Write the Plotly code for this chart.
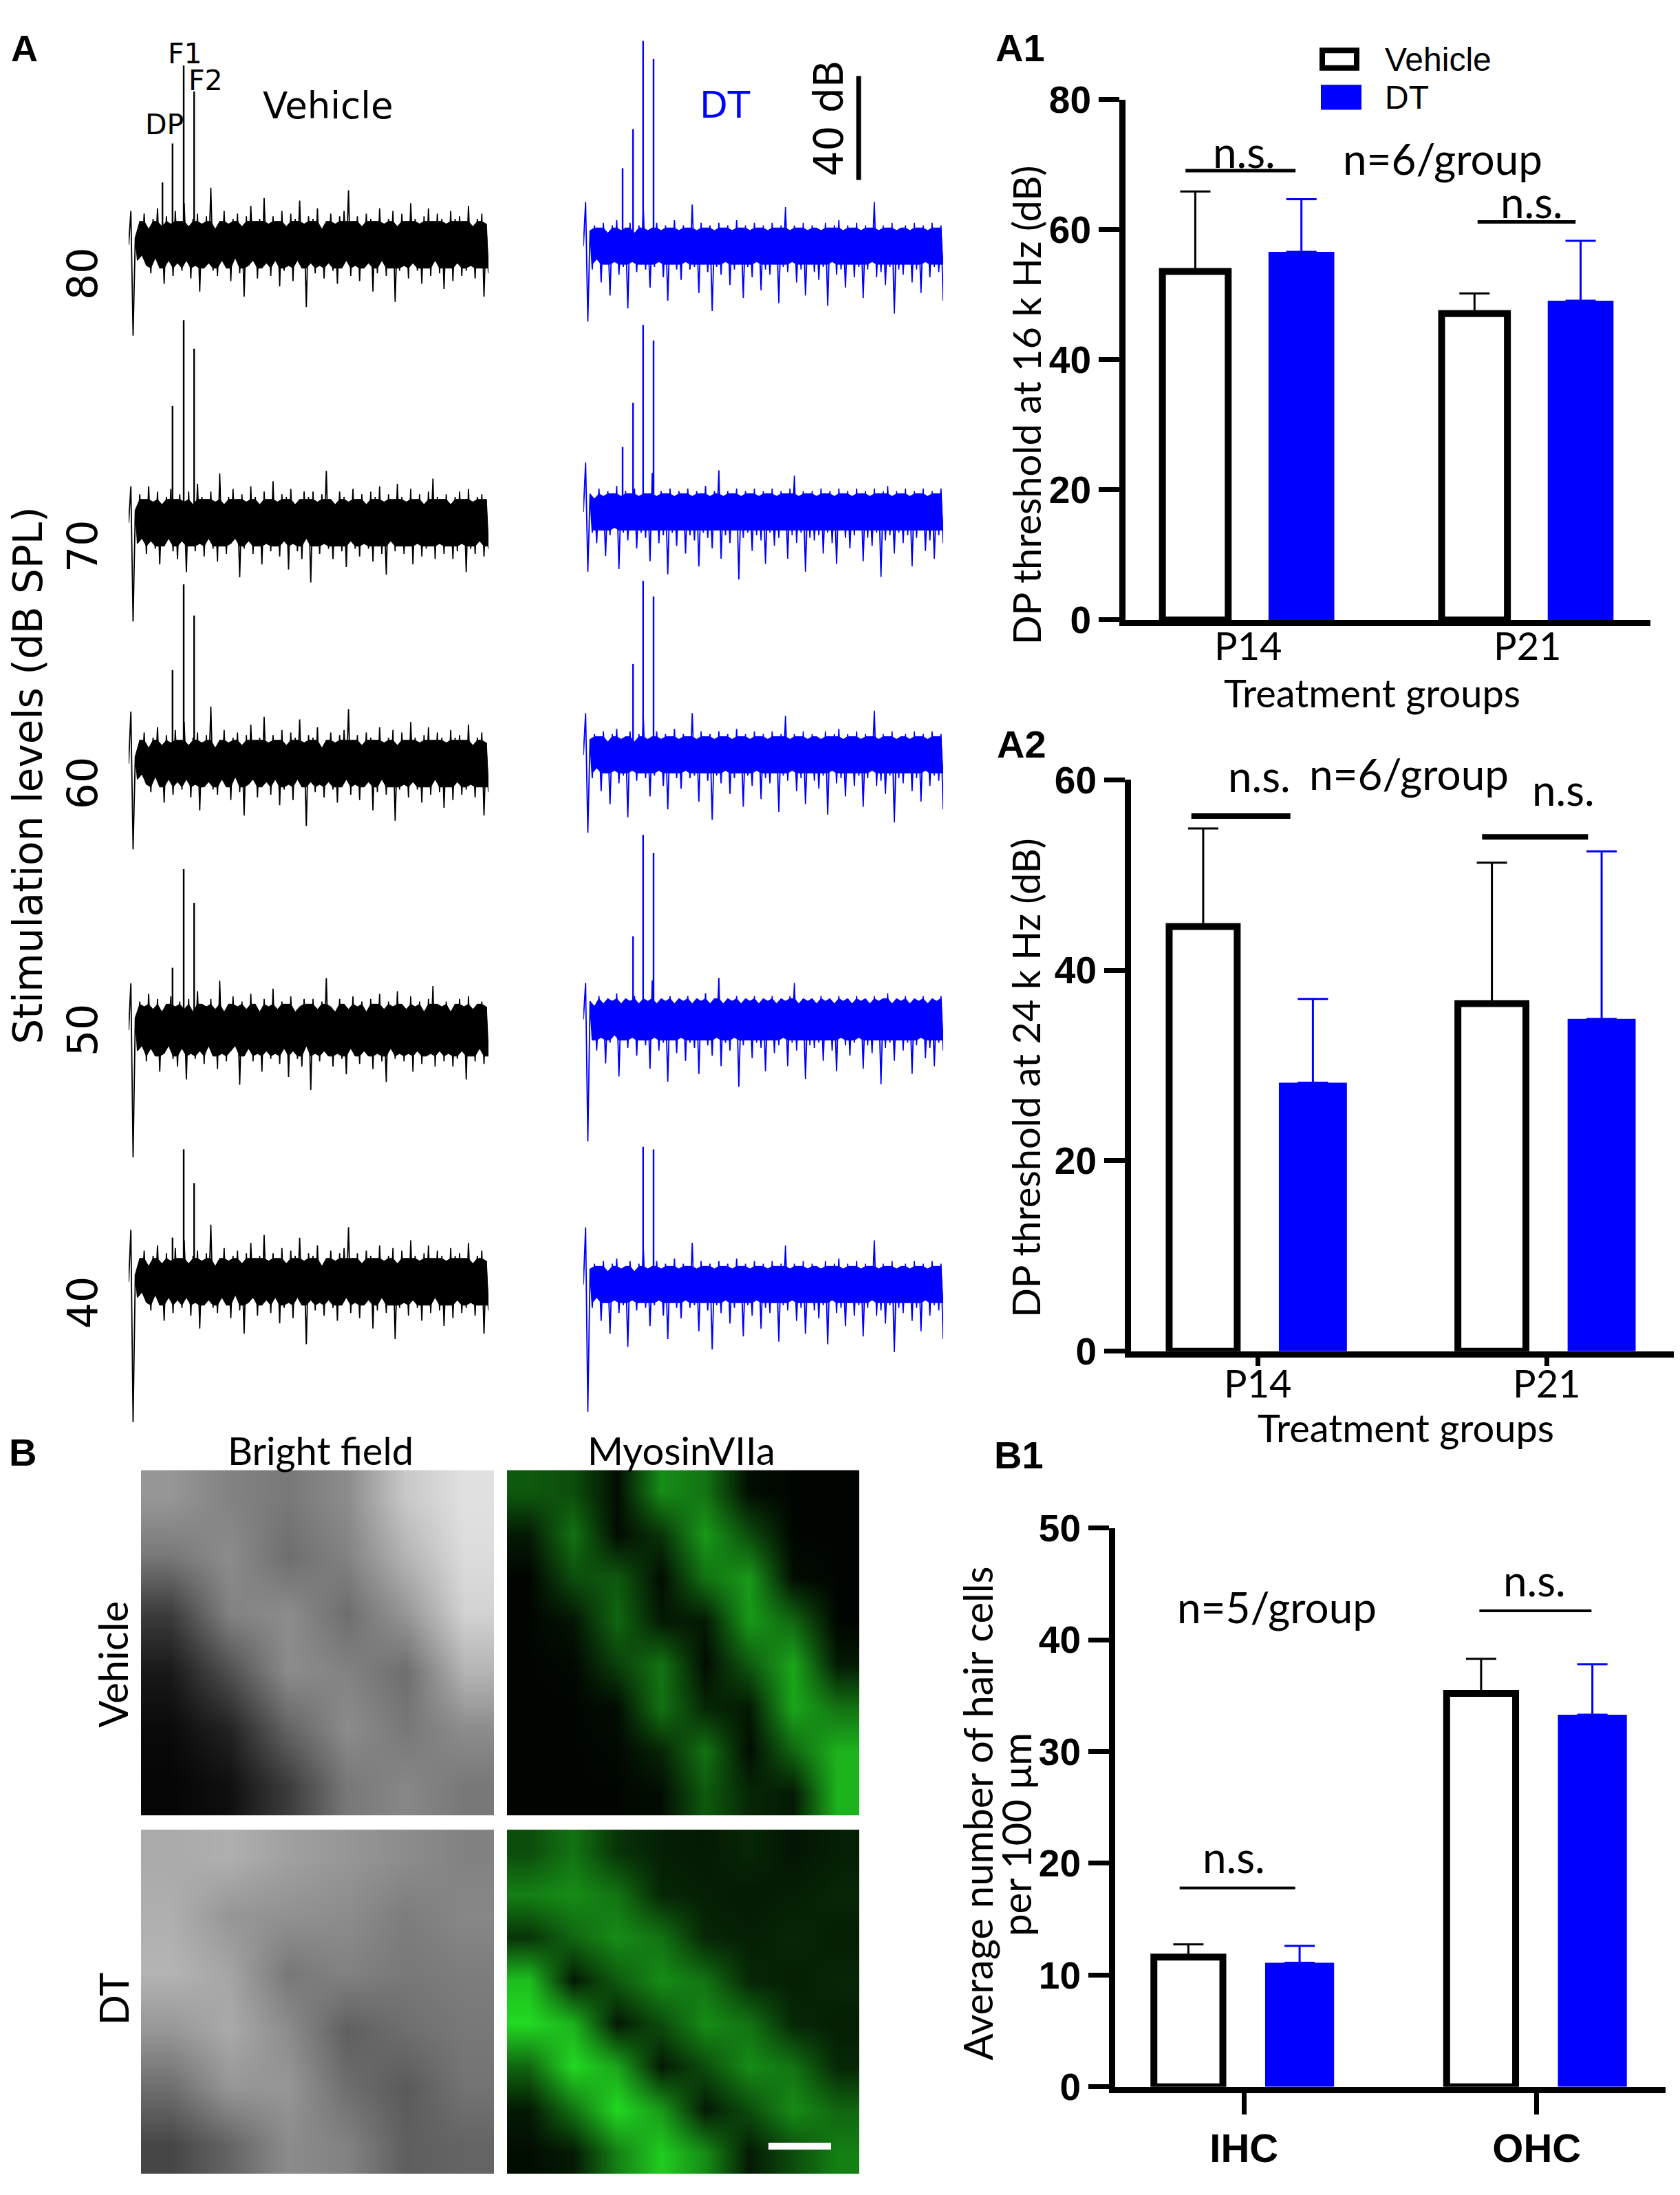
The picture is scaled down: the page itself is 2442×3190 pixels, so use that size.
import numpy as np
import plotly.graph_objects as go

W, H = 2442, 3190
PX_DB = 3.85  # trace panel: pixels per dB (40 dB bar is ~155 px)

# ---------------- panel A: DPOAE spectra ----------------
levels = ["80", "70", "60", "50", "40"]

# noise floor, read as up/down swings (dB around the noise floor)
vehicle_noise_a = [3, -6, 9, -4, 12, -8, 6, -11, 10, -5, 14, -9, 7, -15, 11, -6, 8, -12, 13, -7,
                   9, -10, 16, -6, 7, -13, 10, -8, 12, -18, 8, -9, 11, -7, 22, -10, 6, -12, 9, -6,
                   13, -9, 8, -14, 10, -5, 12, -11, 7, -20, 11, -8, 15, -6, 9, -13, 10, -9, 18, -7,
                   8, -12, 11, -6, 9, -16, 13, -10, 7, -8, 12, -14, 10, -6, 17, -9, 8, -24, 11, -7,
                   10, -11, 14, -8, 6, -13, 9, -7, 12, -10, 8, -15, 11, -9, 13, -6, 21, -12, 9, -8,
                   11, -14, 7, -9, 12, -7, 10, -18, 9, -11, 14, -6, 8, -12, 10, -9, 13, -22, 7, -10,
                   12, -8, 9, -13, 16, -7, 10, -10, 8, -15, 11, -9, 14, -12, 9, -6, 12, -11, 10, -17,
                   8, -9, 13, -14, 10, -7, 11, -12, 9, -10, 15, -8, 7, -13, 10, -9, 12, -20, 8, -11]
vehicle_noise_b = [5, -8, 11, -6, 9, -12, 14, -7, 8, -10, 12, -16, 7, -9, 10, -6, 13, -11, 9, -14,
                   11, -7, 8, -19, 12, -9, 7, -11, 15, -8, 10, -13, 9, -6, 12, -10, 8, -15, 19, -9,
                   7, -12, 10, -8, 13, -6, 9, -21, 11, -10, 8, -7, 14, -12, 10, -9, 7, -16, 12, -8,
                   9, -11, 16, -9, 8, -13, 11, -7, 10, -18, 13, -8, 7, -11, 9, -14, 12, -6, 10, -23,
                   12, -9, 8, -12, 11, -8, 20, -10, 9, -14, 7, -9, 12, -11, 10, -17, 8, -7, 13, -10,
                   9, -13, 11, -8, 7, -10, 12, -15, 10, -9, 14, -12, 8, -20, 11, -7, 9, -11, 15, -9,
                   10, -12, 8, -9, 13, -16, 9, -8, 11, -13, 7, -10, 12, -9, 17, -14, 10, -8, 9, -12,
                   11, -9, 7, -14, 10, -11, 12, -8, 9, -19, 13, -10, 8, -12, 10, -7, 11, -13, 9, -10]
dt_noise_a = [6, -9, 8, -5, 7, -14, 9, -7, 5, -19, 8, -6, 10, -11, 6, -8, 7, -24, 9, -6,
              5, -10, 8, -7, 14, -9, 6, -16, 7, -8, 9, -6, 6, -12, 8, -21, 7, -7, 10, -9,
              6, -13, 8, -6, 7, -9, 16, -8, 6, -18, 9, -7, 7, -10, 8, -25, 6, -8, 9, -11,
              7, -6, 8, -15, 6, -9, 10, -7, 7, -20, 8, -8, 6, -12, 9, -6, 7, -17, 8, -9,
              6, -11, 9, -7, 7, -22, 8, -8, 15, -10, 6, -6, 8, -14, 7, -9, 9, -19, 6, -7,
              8, -10, 7, -13, 6, -8, 9, -23, 7, -6, 8, -11, 10, -9, 6, -16, 8, -7, 7, -12,
              9, -8, 6, -20, 8, -9, 7, -6, 17, -12, 6, -10, 8, -15, 7, -8, 9, -26, 6, -9,
              7, -11, 8, -7, 6, -14, 9, -9, 7, -18, 8, -6, 6, -12, 9, -8, 7, -10, 8, -21]
dt_noise_b = [7, -8, 5, -12, 9, -7, 6, -17, 8, -9, 7, -6, 10, -22, 6, -8, 8, -11, 7, -7,
              9, -14, 6, -8, 8, -10, 7, -19, 15, -7, 6, -12, 8, -9, 7, -24, 9, -8, 6, -13,
              8, -7, 7, -16, 9, -9, 6, -11, 8, -21, 7, -8, 10, -10, 6, -14, 8, -7, 16, -18,
              6, -9, 8, -12, 7, -7, 9, -26, 6, -10, 8, -8, 7, -15, 9, -9, 6, -11, 8, -20,
              7, -8, 9, -13, 6, -10, 8, -7, 7, -18, 9, -9, 14, -12, 6, -8, 8, -23, 7, -10,
              8, -11, 6, -9, 9, -16, 7, -8, 8, -12, 6, -20, 9, -7, 7, -10, 8, -14, 6, -9,
              9, -7, 7, -19, 8, -10, 6, -13, 9, -8, 7, -25, 8, -11, 10, -9, 6, -16, 8, -8,
              7, -12, 9, -9, 6, -21, 8, -10, 7, -7, 9, -15, 6, -11, 8, -18, 7, -9, 9, -12]

# where the dense part of the band stops (dB above / below the floor)
vehicle_core = [9, 9, 9, 10, 9]
dt_core = [7, 7, 7, 8, 7]

# onset click at the start of every record (dB up / dB down)
vehicle_onset_up = [13, 14, 20, 18, 20]
vehicle_onset_down = [35, 38, 33, 49, 54]
dt_onset_up = [17, 19, 16, 14, 22]
dt_onset_down = [29, 23, 30, 47, 49]

# peak heights above the noise floor (dB)
vehicle_dp = [39, 45, 36, 24, 17]
vehicle_f1 = [69, 78, 69, 62, 51]
vehicle_f2 = [59, 67, 57, 49, 38]
vehicle_extra = [24, 0, 0, 0, 0]
dt_dp = [45, 42, 35, 32, 0]
dt_f1 = [79, 72, 67, 71, 53]
dt_f2 = [72, 66, 61, 64, 52]
dt_extra = [30, 25, 0, 0, 0]

# peak positions along the record (% of trace width)
vehicle_peak_pos = [9.4, 12.2, 15.3, 18.2]   # extra, DP, F1, F2
dt_peak_pos = [10.9, 13.8, 16.6, 19.5]

# ---------------- bar panels ----------------
groups = ["P14", "P21"]
a1_vehicle = [53.6, 47.1]
a1_vehicle_err = [12.3, 3.1]
a1_dt = [56.6, 49.1]
a1_dt_err = [8.1, 9.2]

a2_vehicle = [44.6, 36.5]
a2_vehicle_err = [10.3, 14.8]
a2_dt = [28.2, 34.9]
a2_dt_err = [8.8, 17.6]

cells = ["IHC", "OHC"]
b1_vehicle = [11.6, 35.2]
b1_vehicle_err = [1.15, 3.1]
b1_dt = [11.1, 33.3]
b1_dt_err = [1.5, 4.5]

# ---------------- B: image stand-ins (coarse intensity maps) ----------------
bf_vehicle = [[150, 130, 120, 140, 200, 225],
              [120, 140, 110, 130, 180, 220],
              [60, 130, 140, 110, 150, 210],
              [25, 80, 140, 130, 110, 180],
              [10, 35, 100, 140, 120, 140],
              [5, 15, 60, 120, 135, 120]]
bf_dt = [[170, 175, 160, 150, 140, 130],
         [175, 150, 145, 140, 125, 135],
         [180, 165, 120, 130, 120, 125],
         [150, 170, 140, 95, 110, 120],
         [110, 150, 150, 110, 90, 115],
         [70, 100, 140, 130, 95, 100]]
myo_vehicle = [[0.35, 0.30, 0.05, 0.55, 0.45, 0.05, 0.02, 0.02],
               [0.10, 0.45, 0.05, 0.20, 0.60, 0.30, 0.02, 0.02],
               [0.02, 0.30, 0.35, 0.05, 0.45, 0.60, 0.05, 0.02],
               [0.02, 0.08, 0.40, 0.10, 0.10, 0.60, 0.40, 0.02],
               [0.02, 0.03, 0.25, 0.45, 0.05, 0.35, 0.65, 0.10],
               [0.02, 0.02, 0.05, 0.45, 0.15, 0.10, 0.65, 0.45],
               [0.02, 0.02, 0.03, 0.15, 0.45, 0.05, 0.40, 0.70],
               [0.02, 0.02, 0.02, 0.05, 0.35, 0.15, 0.10, 0.70]]
myo_dt = [[0.30, 0.45, 0.20, 0.12, 0.10, 0.15, 0.08, 0.12],
          [0.50, 0.55, 0.45, 0.15, 0.12, 0.10, 0.12, 0.15],
          [0.20, 0.40, 0.55, 0.45, 0.15, 0.12, 0.15, 0.12],
          [0.75, 0.10, 0.35, 0.55, 0.45, 0.15, 0.12, 0.15],
          [0.85, 0.70, 0.10, 0.30, 0.55, 0.45, 0.15, 0.12],
          [0.40, 0.85, 0.65, 0.10, 0.30, 0.55, 0.45, 0.15],
          [0.10, 0.45, 0.85, 0.60, 0.10, 0.30, 0.55, 0.40],
          [0.05, 0.10, 0.50, 0.80, 0.55, 0.10, 0.30, 0.50]]

BLUE = "#0000ff"
DEJAVU = "DejaVu Sans"
ARIAL = "Liberation Sans"
CALIBRI = "Lato"


def xd(px):
    return px / W


def yd(py):
    return 1 - py / H


fig = go.Figure()

# ----- traces -----
vehicle_base = [323, 735, 1092, 1487, 1860]   # px from top, noise floor of each record
dt_base = [325, 719, 1079, 1471, 1864]

for i in range(len(levels)):
    for col in ("vehicle", "dt"):
        if col == "vehicle":
            noise = vehicle_noise_a if i % 2 == 0 else vehicle_noise_b
            onset = [0, vehicle_onset_up[i], -vehicle_onset_down[i]]
            base = -vehicle_base[i] / PX_DB
            core = vehicle_core[i]
            peaks = [vehicle_extra[i], vehicle_dp[i], vehicle_f1[i], vehicle_f2[i]]
            pos = vehicle_peak_pos
            color, xa = "black", "x"
        else:
            noise = dt_noise_a if i % 2 == 0 else dt_noise_b
            onset = [0, dt_onset_up[i], -dt_onset_down[i]]
            base = -dt_base[i] / PX_DB
            core = dt_core[i]
            peaks = [dt_extra[i], dt_dp[i], dt_f1[i], dt_f2[i]]
            pos = dt_peak_pos
            color, xa = BLUE, "x2"
        wave = np.array(onset + noise, dtype=float)
        xs = np.linspace(0, 100, len(wave))
        # dense body of the band: fill between upper and lower swings, clipped at the core
        nx = xs[len(onset):]
        up = np.minimum(np.array(noise[0::2]), core)
        dn = np.maximum(np.array(noise[1::2]), -core)
        env_x = np.concatenate([nx[0::2], nx[1::2][::-1]])
        env_y = np.concatenate([up, dn[::-1]]) + base
        fig.add_trace(go.Scatter(x=env_x, y=env_y, fill="toself", fillcolor=color,
                                 mode="lines", line=dict(width=1, color=color),
                                 xaxis=xa, yaxis="y", showlegend=False, hoverinfo="skip"))
        # full trace on top, for the thin outliers
        fig.add_trace(go.Scatter(x=xs, y=wave + base, mode="lines",
                                 line=dict(color=color, width=1.8),
                                 xaxis=xa, yaxis="y", showlegend=False, hoverinfo="skip"))
        px_, py_ = [], []
        for p, h in zip(pos, peaks):
            if h > 0:
                px_ += [p, p, None]
                py_ += [base, base + h, None]
        fig.add_trace(go.Scatter(x=px_, y=py_, mode="lines",
                                 line=dict(color=color, width=2.4),
                                 xaxis=xa, yaxis="y", showlegend=False, hoverinfo="skip"))

# 40 dB scale bar
bar_top = -73 / PX_DB
fig.add_trace(go.Scatter(x=[76.5, 76.5], y=[bar_top, bar_top - 40], mode="lines",
                         line=dict(color="black", width=7),
                         xaxis="x2", yaxis="y", showlegend=False, hoverinfo="skip"))

# ----- bar charts -----
def bars(xcats, veh, veh_err, dt, dt_err, xa, ya):
    fig.add_trace(go.Bar(x=xcats, y=veh, name="Vehicle",
                         marker=dict(color="white", line=dict(color="black", width=10)),
                         error_y=dict(type="data", array=veh_err, arrayminus=[0] * len(veh),
                                      symmetric=False, color="black", thickness=3, width=22),
                         xaxis=xa, yaxis=ya, showlegend=False))
    fig.add_trace(go.Bar(x=xcats, y=dt, name="DT",
                         marker=dict(color=BLUE, line=dict(width=0)),
                         error_y=dict(type="data", array=dt_err, arrayminus=[0] * len(dt),
                                      symmetric=False, color=BLUE, thickness=3, width=22),
                         xaxis=xa, yaxis=ya, showlegend=False))


bars(groups, a1_vehicle, a1_vehicle_err, a1_dt, a1_dt_err, "x3", "y3")
bars(groups, a2_vehicle, a2_vehicle_err, a2_dt, a2_dt_err, "x4", "y4")
bars(cells, b1_vehicle, b1_vehicle_err, b1_dt, b1_dt_err, "x5", "y5")

# ----- images -----
gray = [[0, "black"], [1, "white"]]
green = [[0, "black"], [1, "rgb(40,255,40)"]]
for z, scale, zmax, n in [(bf_vehicle, gray, 255, 6), (myo_vehicle, green, 1, 7),
                          (bf_dt, gray, 255, 8), (myo_dt, green, 1, 9)]:
    fig.add_trace(go.Heatmap(z=z, colorscale=scale, zmin=0, zmax=zmax, showscale=False,
                             zsmooth="best", hoverinfo="skip",
                             xaxis="x%d" % n, yaxis="y%d" % n))

# ----- axes -----
hidden = dict(visible=False, showgrid=False, zeroline=False)
layout = dict(
    xaxis=dict(domain=[xd(179), xd(702)], range=[0, 100], anchor="y", **hidden),
    xaxis2=dict(domain=[xd(840), xd(1363)], range=[0, 100], anchor="y", **hidden),
    yaxis=dict(domain=[yd(2070), 1], range=[-2070 / PX_DB, 0], anchor="x", **hidden),
)

tickfont = dict(family=ARIAL, size=55, color="black", weight="bold")


def bar_axes(n, x0, x1, y0, y1, top, step, xticklen, xlabels):
    layout["xaxis%d" % n] = dict(domain=[xd(x0), xd(x1)], anchor="y%d" % n, type="category",
                                 range=[-0.44, 1.44], showline=True, linewidth=9,
                                 linecolor="black", showgrid=False, zeroline=False,
                                 ticks="outside" if xticklen else "", ticklen=xticklen,
                                 tickwidth=7, tickcolor="black", showticklabels=xlabels,
                                 tickfont=dict(family=ARIAL, size=58, color="black",
                                               weight="bold"))
    layout["yaxis%d" % n] = dict(domain=[yd(y1), yd(y0)], anchor="x%d" % n,
                                 range=[0, top], tickvals=list(range(0, top + 1, step)),
                                 showline=True, linewidth=9, linecolor="black",
                                 ticks="outside", ticklen=30, tickwidth=7, tickcolor="black",
                                 showgrid=False, zeroline=False, tickfont=tickfont)


bar_axes(3, 1628, 2391, 108, 879, 80, 20, 0, False)
bar_axes(4, 1636, 2425, 1116, 1963, 60, 20, 12, False)
bar_axes(5, 1613, 2413, 2225, 3053, 50, 10, 31, True)

img_boxes = {6: (197, 710, 2139, 2651), 7: (729, 1241, 2139, 2651),
             8: (197, 710, 2672, 3182), 9: (729, 1241, 2672, 3182)}
for n, (x0, x1, y0, y1) in img_boxes.items():
    layout["xaxis%d" % n] = dict(domain=[xd(x0), xd(x1)], anchor="y%d" % n, **hidden)
    layout["yaxis%d" % n] = dict(domain=[yd(y1), yd(y0)], anchor="x%d" % n,
                                 autorange="reversed", **hidden)

fig.update_layout(**layout)

# ----- significance bars (x in category units: 0 = first group, 1 = second) -----
sig = [("x3", "y3", -0.225, 0.169, 69.1, 5), ("x3", "y3", 0.821, 1.172, 61.2, 5),
       ("x4", "y4", -0.231, 0.112, 56.2, 8), ("x4", "y4", 0.776, 1.143, 54.0, 8),
       ("x5", "y5", -0.22, 0.175, 17.8, 4), ("x5", "y5", 0.804, 1.187, 42.6, 4)]
for xa, ya, x0, x1, yv, w in sig:
    fig.add_shape(type="line", xref=xa, yref=ya, x0=x0, x1=x1, y0=yv, y1=yv,
                  line=dict(color="black", width=w))

# legend boxes (A1)
fig.add_shape(type="rect", xref="paper", yref="paper", x0=xd(1914), x1=xd(1964),
              y0=yd(61), y1=yd(35), fillcolor="white", line=dict(color="black", width=8))
fig.add_shape(type="rect", xref="paper", yref="paper", x0=xd(1912), x1=xd(1971),
              y0=yd(123), y1=yd(86), fillcolor=BLUE, line=dict(width=0))

# scale bar on the DT MyosinVIIa image
fig.add_shape(type="line", xref="paper", yref="paper", x0=xd(1109), x1=xd(1200),
              y0=yd(3141), y1=yd(3141), line=dict(color="white", width=10))


def label(text, px, py, size, family, color="black", angle=0, bold=False, xanchor="center"):
    fig.add_annotation(x=xd(px), y=yd(py), xref="paper", yref="paper", text=text,
                       showarrow=False, textangle=angle, xanchor=xanchor, yanchor="middle",
                       font=dict(family=family, size=size, color=color,
                                 weight="bold" if bold else "normal"))


# group names under A1 / A2, placed on the category axis
for xa, py in [("x3", 916), ("x4", 2010)]:
    for g in groups:
        fig.add_annotation(x=g, xref=xa, y=yd(py), yref="paper", text=g, showarrow=False,
                           yanchor="middle", font=dict(family=CALIBRI, size=56, color="black"))

# panel letters
label("A", 27, 32, 54, ARIAL, bold=True)
label("A1", 1475, 31, 56, ARIAL, bold=True)
label("A2", 1477, 1063, 56, ARIAL, bold=True)
label("B", 25, 2113, 56, ARIAL, bold=True)
label("B1", 1473, 2117, 56, ARIAL, bold=True)

# panel A texts
label("Vehicle", 469, 117, 53, DEJAVU)
label("DT", 1046, 116, 53, DEJAVU, color=BLUE)
label("F1", 261, 40, 41, DEJAVU)
label("F2", 291, 80, 41, DEJAVU)
label("DP", 231, 145, 41, DEJAVU)
label("40 dB", 1197, 136, 58, DEJAVU, angle=-90)
label("Stimulation levels (dB SPL)", 33, 1110, 58, DEJAVU, angle=-90)
for lev, yy in zip(levels, [366, 770, 1121, 1487, 1891]):
    label(lev, 112, yy, 60, DEJAVU, angle=-90)

# A1 texts
label("Vehicle", 2003, 48, 48, ARIAL, xanchor="left")
label("DT", 2003, 105, 48, ARIAL, xanchor="left")
label("n.s.", 1800, 185, 62, CALIBRI)
label("n=6/group", 2089, 195, 62, CALIBRI)
label("n.s.", 2218, 259, 62, CALIBRI)
label("DP threshold at 16 k Hz (dB)", 1483, 561, 56, CALIBRI, angle=-90)
label("Treatment groups", 1986, 987, 56, CALIBRI)

# A2 texts
label("n.s.", 1822, 1110, 62, CALIBRI)
label("n=6/group", 2040, 1106, 62, CALIBRI)
label("n.s.", 2264, 1130, 62, CALIBRI)
label("DP threshold at 24 k Hz (dB)", 1483, 1558, 56, CALIBRI, angle=-90)
label("Treatment groups", 2035, 2076, 56, CALIBRI)

# B1 texts
label("n=5/group", 1848, 2342, 62, CALIBRI)
label("n.s.", 2222, 2302, 62, CALIBRI)
label("n.s.", 1785, 2712, 62, CALIBRI)
label("Average number of hair cells", 1413, 2648, 58, CALIBRI, angle=-90)
label("per 100 μm", 1469, 2679, 58, CALIBRI, angle=-90)

# B texts
label("Bright field", 458, 2110, 56, CALIBRI)
label("MyosinVIIa", 982, 2110, 56, CALIBRI)
label("Vehicle", 156, 2427, 58, CALIBRI, angle=-90)
label("DT", 156, 2923, 58, CALIBRI, angle=-90)

fig.update_layout(width=W, height=H, margin=dict(l=0, r=0, t=0, b=0),
                  paper_bgcolor="white", plot_bgcolor="white",
                  barmode="group", bargap=0.24, bargroupgap=0.38)

fig.write_html("out.html")
